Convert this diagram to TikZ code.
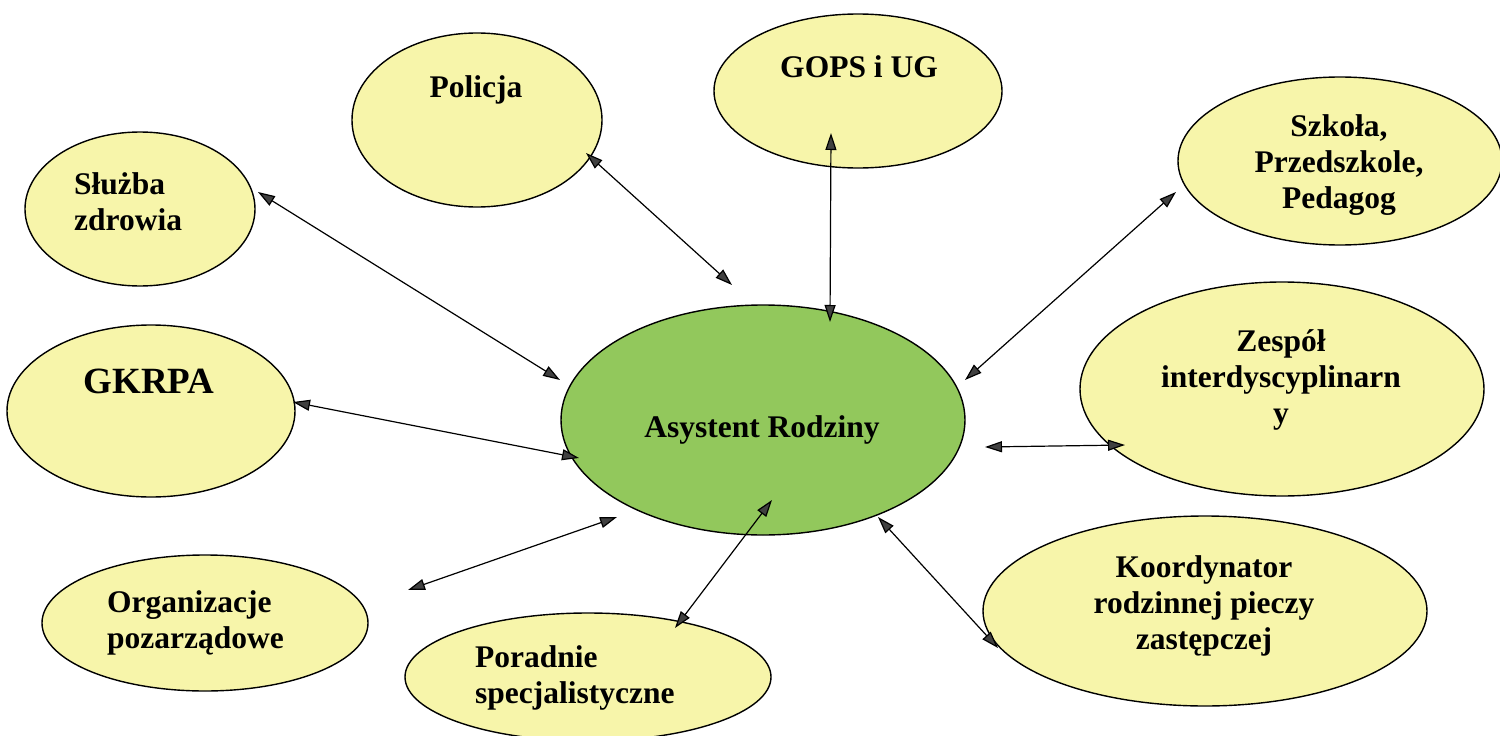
\documentclass[tikz,border=0pt]{standalone}
\usepackage{fontspec}
\setmainfont{Liberation Serif}
\usetikzlibrary{shapes.geometric,arrows.meta,calc}
\definecolor{pale}{RGB}{247,245,170}
\definecolor{leaf}{RGB}{146,200,92}
\begin{document}
\begin{tikzpicture}[x=1pt,y=-1pt,
  bubble/.style={ellipse,draw=black,line width=1.4pt,fill=pale,inner sep=0pt},
  hub/.style={bubble,fill=leaf},
  lbl/.style={font=\bfseries\fontsize{31.5}{36}\selectfont,inner sep=0pt},
  biglbl/.style={font=\bfseries\fontsize{37}{42}\selectfont,inner sep=0pt},
  link/.style={line width=1.2pt,draw=black,
    {Triangle[length=17pt,width=11pt,fill=black!75]}-{Triangle[length=17pt,width=11pt,fill=black!75]}}]
\useasboundingbox (0,0) rectangle (1500,736);
\fill[white] (0,0) rectangle (1500,736);

% ellipses
\node[bubble,minimum width=250pt,minimum height=174pt] (pol) at (477,120) {};
\node[bubble,minimum width=288pt,minimum height=154pt] (gops) at (858,91) {};
\node[bubble,minimum width=230pt,minimum height=154pt] (slu) at (140,209) {};
\node[bubble,minimum width=324pt,minimum height=168pt] (szk) at (1340,161) {};
\node[bubble,minimum width=288pt,minimum height=172pt] (gk) at (151,411) {};
\node[hub,minimum width=404pt,minimum height=230pt] (ar) at (763,420) {};
\node[bubble,minimum width=404pt,minimum height=214pt] (zes) at (1282,389) {};
\node[bubble,minimum width=326pt,minimum height=136pt] (org) at (205,623) {};
\node[bubble,minimum width=366pt,minimum height=128pt] (por) at (588,677) {};
\node[bubble,minimum width=444pt,minimum height=190pt] (koo) at (1205,611) {};

% texts (base anchor = baseline of the last line)
\node[lbl,anchor=base] (polt) at (476,97) {Policja};
\node[lbl,anchor=base] (gopst) at (859,77) {GOPS i UG};
\node[lbl,anchor=base west,align=left] (slut) at (74,230) {Służba\\zdrowia};
\node[lbl,anchor=base,align=center] (szkt) at (1339,208) {Szkoła,\\Przedszkole,\\Pedagog};
\node[biglbl,anchor=base] (gkt) at (149,393) {GKRPA};
\node[lbl,anchor=base] (art) at (762,437) {Asystent Rodziny};
\node[lbl,anchor=base,align=center] (zest) at (1281,423) {Zespół\\interdyscyplinarn\\y};
\node[lbl,anchor=base west,align=left] (orgt) at (107,648) {Organizacje\\pozarządowe};
\node[lbl,anchor=base west,align=left] (port) at (475,703) {Poradnie\\specjalistyczne};
\node[lbl,anchor=base,align=center] (koot) at (1204,649) {Koordynator\\rodzinnej pieczy\\zastępczej};

% connectors
\draw[link] ($(slu)+(118,-17)$) -- ($(ar)+(-203,-40)$);
\draw[link] ($(pol)+(109,33)$) -- ($(ar)+(-31,-135)$);
\draw[link] ($(gops)+(-27,42)$) -- ($(ar)+(67,-98)$);
\draw[link] ($(szk)+(-164,31)$) -- ($(ar)+(202,-40)$);
\draw[link] ($(gk)+(142,-9)$) -- ($(ar)+(-184,38)$);
\draw[link] ($(zes)+(-157,56)$) -- ($(ar)+(222,27)$);
\draw[link] ($(org)+(203,-33)$) -- ($(ar)+(-146,97)$);
\draw[link] ($(por)+(87,-49)$) -- ($(ar)+(9,80)$);
\draw[link] ($(koo)+(-207,37)$) -- ($(ar)+(115,97)$);
\end{tikzpicture}
\end{document}
